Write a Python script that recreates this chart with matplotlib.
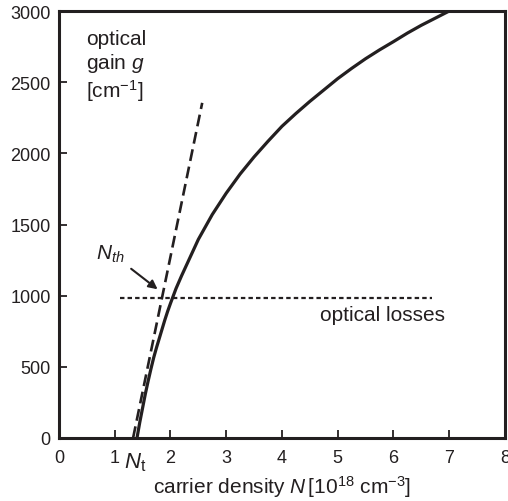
import matplotlib
matplotlib.use("Agg")
import matplotlib.pyplot as plt

plt.rcParams['font.family'] = ['Liberation Sans', 'DejaVu Sans']
plt.rcParams['mathtext.fontset'] = 'custom'
plt.rcParams['mathtext.rm'] = 'Liberation Sans'
plt.rcParams['mathtext.it'] = 'Liberation Sans:italic'

INK = '#231f20'

# Optical gain curve (solid)
gain_N = [1.40, 1.45, 1.5, 1.55, 1.6, 1.65, 1.7, 1.75, 1.8, 1.85, 1.9, 1.95, 2.0, 2.1,
          2.2, 2.3, 2.4, 2.5, 2.6, 2.75, 2.9, 3.0, 3.25, 3.5, 3.75, 4.0, 4.25, 4.5,
          4.75, 5.0, 5.25, 5.5, 5.75, 6.0, 6.25, 6.5, 6.75, 7.0]
gain_g = [0, 110, 210, 310, 400, 485, 565, 635, 700, 765, 830, 890, 945, 1050,
          1140, 1225, 1310, 1395, 1465, 1570, 1660, 1720, 1855, 1975, 2085, 2190, 2280, 2365,
          2445, 2525, 2597, 2665, 2727, 2785, 2845, 2900, 2950, 3000]

# Linear approximation (dashed)
lin_N = [1.33, 2.57]
lin_g = [0, 2355]

# Optical losses (dotted)
loss_N = [1.09, 6.70]
loss_g = [982, 982]

xticks = [0, 1, 2, 3, 4, 5, 6, 7, 8]
yticks = [0, 500, 1000, 1500, 2000, 2500, 3000]

fig = plt.figure(figsize=(5.08, 5.02), dpi=100)
ax = fig.add_axes([0.116, 0.1255, 0.878, 0.8505])

ax.plot(gain_N, gain_g, color=INK, lw=2.3, solid_capstyle='butt', solid_joinstyle='round')
ax.plot(lin_N, lin_g, color=INK, lw=1.9, dashes=(4.5, 2.2))
ax.plot(loss_N, loss_g, color=INK, lw=1.6, dashes=(2.0, 1.4))

ax.set_xlim(0, 8)
ax.set_ylim(0, 3000)
ax.set_xticks(xticks)
ax.set_yticks(yticks)
ax.tick_params(direction='in', length=6, width=1.3, colors=INK, labelsize=13)
ax.tick_params(axis='x', pad=8)
ax.tick_params(axis='y', pad=6)
for s in ax.spines.values():
    s.set_linewidth(2.2)
    s.set_color(INK)

ax.set_xlabel(r'carrier density $N\,$[10$^{18}$ cm$^{-3}$]', fontsize=15, color=INK, labelpad=5)

ax.text(0.48, 2615, 'optical\ngain $g$\n[cm$^{-1}$]', fontsize=15, color=INK,
        ha='left', va='center', linespacing=1.15)
ax.text(5.81, 866, 'optical losses', fontsize=15, color=INK, ha='center', va='center')
ax.annotate(r'$N_{th}$', xy=(1.77, 1045), xytext=(0.93, 1300), fontsize=15, color=INK,
            ha='center', va='center',
            arrowprops=dict(arrowstyle='-|>', color=INK, lw=1.5, mutation_scale=13,
                            shrinkA=3, shrinkB=0))
ax.text(1.36, -0.055, r'$N_\mathrm{t}$', transform=ax.get_xaxis_transform(),
        fontsize=16, color=INK, ha='center', va='center')

fig.savefig('out.png', dpi=100)
